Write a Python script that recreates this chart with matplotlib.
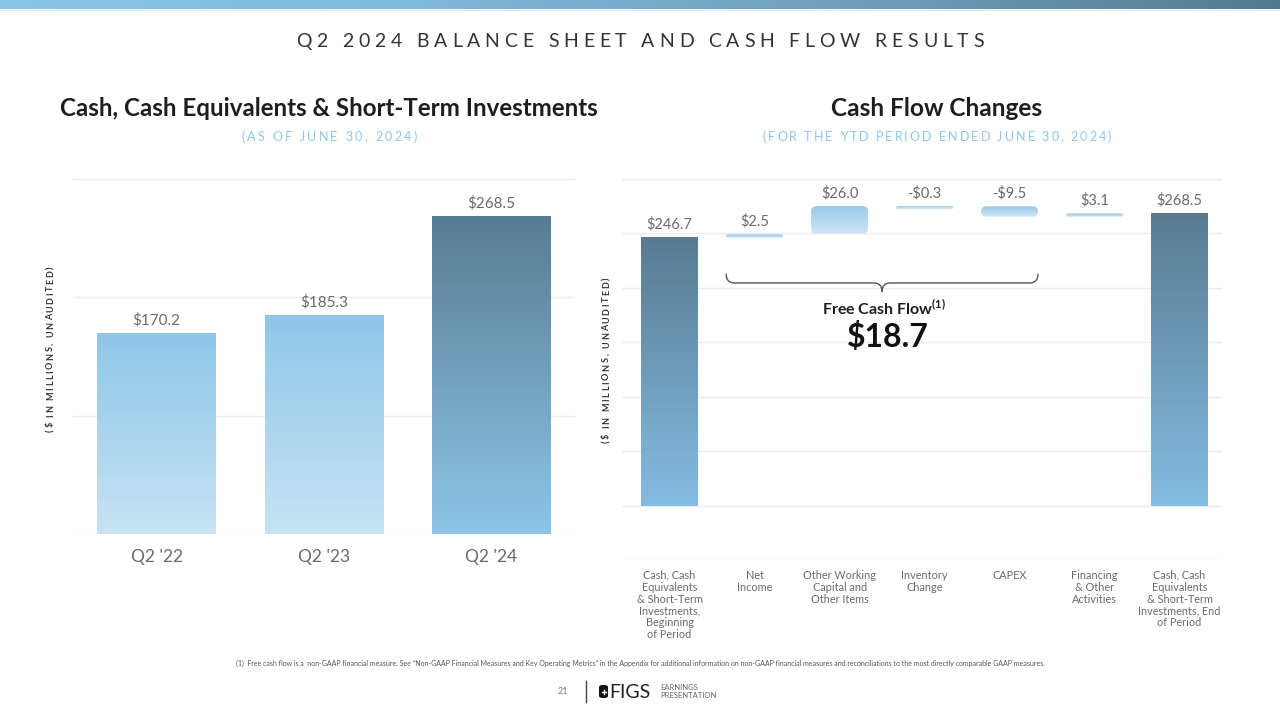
import numpy as np
import matplotlib
matplotlib.use('Agg')
import matplotlib.pyplot as plt
from matplotlib.patches import FancyBboxPatch, PathPatch
from matplotlib.path import Path
from matplotlib.colors import LinearSegmentedColormap
from matplotlib.font_manager import FontProperties

# ---- data ----
periods = ["Q2 '22", "Q2 '23", "Q2 '24"]
cash_balance = [170.2, 185.3, 268.5]

flow_steps = ["Cash, Cash\nEquivalents\n& Short-Term\nInvestments,\nBeginning\nof Period",
              "Net\nIncome",
              "Other Working\nCapital and\nOther Items",
              "Inventory\nChange",
              "CAPEX",
              "Financing\n& Other\nActivities",
              "Cash, Cash\nEquivalents\n& Short-Term\nInvestments, End\nof Period"]
start_cash = 246.7
flow_changes = [2.5, 26.0, -0.3, -9.5, 3.1]
end_cash = 268.5
free_cash_flow = 18.7

FONT = ['Lato', 'DejaVu Sans']
plt.rcParams['font.family'] = FONT
W, H = 1280, 720
GREY = '#6a6a6a'
SUB_BLUE = '#8fc6e8'


def px(x, y):
    return x / W, 1 - y / H


def tracked(fig, s, cx, cy, span, size, color, weight='normal', vertical=False):
    # draws letter-spaced text centred on (cx, cy) px, stretched to span px
    r = fig.canvas.get_renderer()
    fp = FontProperties(family=FONT, size=size, weight=weight)

    def w(t):
        return r.get_text_width_height_descent(t, fp, ismath=False)[0]
    base = w('xx')
    adv = [w('x' + c + 'x') - base for c in s]
    gap = (span - sum(adv)) / (len(s) - 1)
    pos = -span / 2
    for c, a in zip(s, adv):
        mid = pos + a / 2
        if vertical:
            fig.text(*px(cx, cy - mid), c, fontproperties=fp, color=color, rotation=90,
                     rotation_mode='anchor', ha='center', va='baseline')
        else:
            fig.text(*px(cx + mid, cy), c, fontproperties=fp, color=color,
                     rotation_mode='anchor', ha='center', va='baseline')
        pos += a + gap


def fill_gradient(ax, patch, c_top, c_bot, clip=None):
    x0, y0 = patch.get_x(), patch.get_y()
    w, h = patch.get_width(), patch.get_height()
    cmap = LinearSegmentedColormap.from_list('g', [c_bot, c_top])
    im = ax.imshow(np.linspace(0, 1, 256)[:, None], cmap=cmap, origin='lower',
                   extent=(x0, x0 + w, y0, y0 + h), aspect='auto', zorder=2)
    im.set_clip_path(clip if clip is not None else patch)


def style_axes(ax):
    for s in ax.spines.values():
        s.set_visible(False)
    ax.tick_params(length=0)
    ax.set_yticklabels([])
    ax.grid(axis='y', color='#ebebeb', linewidth=1)
    ax.set_axisbelow(True)


fig = plt.figure(figsize=(12.8, 7.2), dpi=100)

# top banner
bax = fig.add_axes([0, 1 - 9 / H, 1, 9 / H])
banner = LinearSegmentedColormap.from_list('b', ['#8dc6ea', '#80b7dc', '#6f9fbd', '#557a90'])
bax.imshow(np.linspace(0, 1, 256)[None, :], cmap=banner, aspect='auto', extent=(0, 1, 0, 1))
bax.axis('off')
fig.add_artist(plt.Line2D([0, 1], [1 - 10 / H, 1 - 10 / H], color='#d8edf9', lw=1))

tracked(fig, 'Q2 2024 BALANCE SHEET AND CASH FLOW RESULTS', 640, 47, 688, 14, '#333333')

# ---- left chart ----
ax1 = fig.add_axes([73 / W, 1 - 534 / H, 502 / W, 355 / H])
bars = ax1.bar(range(len(periods)), cash_balance, width=0.71, color='none', zorder=2)
for i, (b, v) in enumerate(zip(bars, cash_balance)):
    if i == len(periods) - 1:
        fill_gradient(ax1, b, '#587c93', '#8cc5e7')
    else:
        fill_gradient(ax1, b, '#8dc6e8', '#c7e3f4')
    ax1.annotate(f'${v:.1f}', (b.get_x() + b.get_width() / 2, v), xytext=(0, 4),
                 textcoords='offset points', ha='center', va='bottom', fontsize=11,
                 color=GREY)
ax1.set_xlim(-0.5, 2.5)
ax1.set_ylim(0, 300)
ax1.set_yticks([0, 100, 200, 300])
ax1.set_xticks(range(len(periods)))
ax1.set_xticklabels(periods, fontsize=12.5, color=GREY)
ax1.tick_params(axis='x', pad=11)
style_axes(ax1)

fig.text(*px(329, 116), 'Cash, Cash Equivalents & Short-Term Investments', ha='center',
         va='baseline', fontsize=17.4, fontweight='bold', color='#1e1e1e')
tracked(fig, '(AS OF JUNE 30, 2024)', 329, 141, 176, 9, SUB_BLUE)
tracked(fig, '($ IN MILLIONS, UNAUDITED)', 53, 349, 165, 6.5, '#333333', weight='bold', vertical=True)

# ---- right chart (waterfall) ----
ax2 = fig.add_axes([622 / W, 1 - 560 / H, 600 / W, 381 / H])
ax2.set_xlim(-0.56, 6.5)
ax2.set_ylim(-50, 300)
ax2.set_yticks(np.arange(-50, 301, 50))
bw = 0.67
min_h = 3.0

x_per_px = (6.5 + 0.56) / 600
y_per_px = 350 / 381
asp = (1 / x_per_px) / (1 / y_per_px)  # y units per x unit at equal pixels

b0 = ax2.bar(0, start_cash, width=bw, color='none', zorder=2)[0]
fill_gradient(ax2, b0, '#587b91', '#84bce3')
labels = [(0, start_cash, start_cash)]

cum = start_cash
for i, v in enumerate(flow_changes, start=1):
    top = max(cum, cum + v)
    h = max(abs(v), min_h)
    b = ax2.bar(i, h, bottom=top - h, width=bw, color='none', zorder=2)[0]
    rr = min(0.07, bw / 2, h / asp / 2)
    clip = FancyBboxPatch((b.get_x(), b.get_y()), bw, h,
                          boxstyle=f'round,pad=0,rounding_size={rr}', mutation_aspect=asp,
                          transform=ax2.transData, facecolor='none', edgecolor='none')
    ax2.add_patch(clip)
    fill_gradient(ax2, b, '#97c9ea', '#cfe6f5', clip=clip)
    labels.append((i, top, v))
    cum += v

b6 = ax2.bar(len(flow_steps) - 1, end_cash, width=bw, color='none', zorder=2)[0]
fill_gradient(ax2, b6, '#587b91', '#84bce3')
labels.append((len(flow_steps) - 1, end_cash, end_cash))

for x, top, v in labels:
    txt = f'${v:.1f}' if v >= 0 else f'-${abs(v):.1f}'
    ax2.annotate(txt, (x, top), xytext=(0, 4), textcoords='offset points', ha='center',
                 va='bottom', fontsize=10.5, color=GREY)

ax2.set_xticks(range(len(flow_steps)))
ax2.set_xticklabels(flow_steps, fontsize=7.8, color=GREY, linespacing=1.1)
ax2.tick_params(axis='x', pad=7)
style_axes(ax2)

# brace over Net Income .. CAPEX
xl, xr = 1 - bw / 2, 4 + bw / 2
xm = (xl + xr) / 2
yb, yt, ytip = 204.5, 213, 196.5
dx = 8 * x_per_px
verts = [(xl, yt), (xl, yb), (xl + dx, yb), (xm - dx, yb), (xm, yb), (xm, ytip),
         (xm, yb), (xm + dx, yb), (xr - dx, yb), (xr, yb), (xr, yt)]
codes = [Path.MOVETO, Path.CURVE3, Path.CURVE3, Path.LINETO, Path.CURVE3, Path.CURVE3,
         Path.CURVE3, Path.CURVE3, Path.LINETO, Path.CURVE3, Path.CURVE3]
ax2.add_patch(PathPatch(Path(verts, codes), facecolor='none', edgecolor='#555555', lw=1, zorder=3))

fig.text(*px(884, 315), r'Free Cash Flow$^{\mathregular{(1)}}$', ha='center', va='baseline',
         fontsize=11.5, fontweight='bold', color='#1e1e1e')
fig.text(*px(888, 347), f'${free_cash_flow:.1f}', ha='center', va='baseline',
         fontsize=23, fontweight='bold', color='#111111')

fig.text(*px(937, 116), 'Cash Flow Changes', ha='center', va='baseline', fontsize=17.6,
         fontweight='bold', color='#1e1e1e')
tracked(fig, '(FOR THE YTD PERIOD ENDED JUNE 30, 2024)', 937, 141, 349, 9, SUB_BLUE)
tracked(fig, '($ IN MILLIONS, UNAUDITED)', 609, 360, 166, 6.5, '#333333', weight='bold', vertical=True)

# ---- footer ----
fig.text(*px(640, 666), '(1)  Free cash flow is a  non-GAAP financial measure. See \u201cNon-GAAP Financial Measures '
         'and Key Operating Metrics\u201d in the Appendix for additional information on non-GAAP financial '
         'measures and reconciliations to the most directly comparable GAAP measures.',
         ha='center', va='baseline', fontsize=5.0, color='#555555')
fig.text(*px(563, 694), '21', ha='center', va='baseline', fontsize=6.5, color='#777777')
fig.add_artist(plt.Line2D([586 / W, 586 / W], [1 - 681 / H, 1 - 702 / H], color='#444444', lw=1))
fig.add_artist(FancyBboxPatch(px(599, 698), 9 / W, 13 / H, boxstyle='round,pad=0,rounding_size=0.003',
                              transform=fig.transFigure, facecolor='#111111', edgecolor='none'))
fig.add_artist(plt.Line2D([601.5 / W, 605.5 / W], [1 - 691.5 / H, 1 - 691.5 / H], color='white', lw=1))
fig.add_artist(plt.Line2D([603.5 / W, 603.5 / W], [1 - 689.5 / H, 1 - 693.5 / H], color='white', lw=1))
fig.text(*px(609, 698), 'FIGS', ha='left', va='baseline', fontsize=14, color='#222222')
fig.text(*px(660, 690), 'EARNINGS', ha='left', va='baseline', fontsize=5.5, color='#666666')
fig.text(*px(660, 698), 'PRESENTATION', ha='left', va='baseline', fontsize=5.5, color='#666666')

fig.savefig('out.png', dpi=100)
